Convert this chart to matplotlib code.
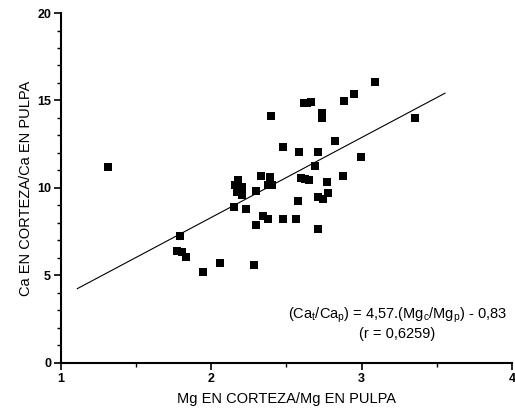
import numpy as np
import matplotlib.pyplot as plt
from matplotlib.ticker import MultipleLocator

plt.rcParams['font.family'] = ['Liberation Sans', 'DejaVu Sans']
plt.rcParams['mathtext.default'] = 'regular'

# Mg corteza/pulpa vs Ca corteza/pulpa
mg_ratio = [1.315, 3.089, 2.949, 2.881, 2.615, 2.661, 2.734, 2.734, 2.395, 3.355,
            2.823, 2.475, 2.584, 2.712, 2.994, 2.690, 2.331, 2.391, 2.878, 2.176,
            2.158, 2.202, 2.379, 2.402, 2.595, 2.623, 2.650, 2.768, 2.169, 2.202,
            2.295, 2.779, 2.708, 2.745, 2.579, 2.151, 2.235, 2.346, 2.375, 2.475,
            2.561, 2.295, 2.708, 1.792, 1.770, 1.803, 1.832, 1.943, 2.058, 2.284,
            2.640]
ca_ratio = [11.22, 16.07, 15.35, 14.99, 14.84, 14.93, 14.26, 14.00, 14.11, 14.02,
            12.70, 12.32, 12.08, 12.04, 11.77, 11.26, 10.70, 10.65, 10.69, 10.46,
            10.17, 10.08, 10.17, 10.17, 10.55, 10.51, 10.46, 10.32, 9.79, 9.60,
            9.85, 9.70, 9.51, 9.35, 9.24, 8.93, 8.82, 8.40, 8.21, 8.21,
            8.25, 7.89, 7.68, 7.28, 6.42, 6.36, 6.04, 5.22, 5.70, 5.60,
            14.88]

slope = 4.57
intercept = -0.83
fit_x = [1.11, 3.555]

fig = plt.figure(figsize=(5.15, 4.2), dpi=100)
ax = fig.add_axes([0.118, 0.136, 0.876, 0.833])

ax.scatter(mg_ratio, ca_ratio, marker='s', s=30, color='black', linewidths=0, zorder=3)
fx = np.array(fit_x)
ax.plot(fx, slope * fx + intercept, color='black', lw=0.8)

ax.set_xlim(1, 4)
ax.set_ylim(0, 20)
ax.xaxis.set_major_locator(MultipleLocator(1))
ax.xaxis.set_minor_locator(MultipleLocator(0.5))
ax.yaxis.set_major_locator(MultipleLocator(5))
ax.yaxis.set_minor_locator(MultipleLocator(1))

for s in ['top', 'right']:
    ax.spines[s].set_visible(False)
for s in ['left', 'bottom']:
    ax.spines[s].set_linewidth(1.5)

ax.tick_params(which='major', direction='out', length=5, width=1.2, labelsize=9, pad=2)
ax.tick_params(which='minor', direction='out', length=3, width=1)
for lab in ax.get_xticklabels() + ax.get_yticklabels():
    lab.set_fontweight('bold')

ax.set_xlabel('Mg EN CORTEZA/Mg EN PULPA', fontsize=10.5, labelpad=5)
ax.set_ylabel('Ca EN CORTEZA/Ca EN PULPA', fontsize=10.5, labelpad=3)

ax.text(3.24, 2.74, r'(Ca$_t$/Ca$_p$) = 4,57.(Mg$_c$/Mg$_p$) - 0,83',
        ha='center', va='center', fontsize=10.5)
ax.text(3.24, 1.66, '(r = 0,6259)', ha='center', va='center', fontsize=10.5)

fig.savefig('out.png', dpi=100)
